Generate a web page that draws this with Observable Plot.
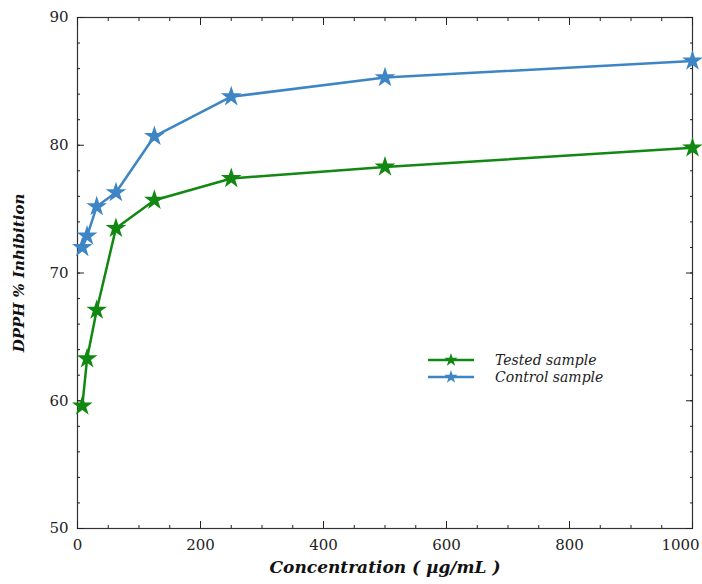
<!DOCTYPE html>
<html><head><meta charset="utf-8">
<script src="https://cdn.jsdelivr.net/npm/d3@7"></script>
<script src="https://cdn.jsdelivr.net/npm/@observablehq/plot@0.6"></script>
<style>
body{margin:0;background:#fff}
#wrap{position:relative;width:702px;height:584px}
#legend{position:absolute;left:424px;top:348px}
</style></head><body><div id="wrap"></div>
<script>
const concentrations = [7.8, 15.6, 31.25, 62.5, 125, 250, 500, 1000];
const tested = [59.6, 63.3, 67.1, 73.5, 75.7, 77.4, 78.3, 79.8];
const control = [72.0, 72.9, 75.2, 76.3, 80.7, 83.8, 85.3, 86.6];
const seriesNames = ["Tested sample", "Control sample"];
const seriesColors = ["#118811", "#3d85c4"];
const xTicks = [0, 200, 400, 600, 800, 1000];
const yTicks = [50, 60, 70, 80, 90];
const xMinor = d3.range(0, 1001, 50);
const yMinor = d3.range(50, 91, 2);
const xLabel = "Concentration ( \u00b5g/mL )";
const yLabel = "DPPH % Inhibition";

const data = [];
concentrations.forEach((c, i) => data.push({x: c, y: tested[i], s: seriesNames[0]}));
concentrations.forEach((c, i) => data.push({x: c, y: control[i], s: seriesNames[1]}));

const blank = () => "";
const chart = Plot.plot({
  width: 702, height: 584,
  marginLeft: 77, marginRight: 10, marginTop: 17, marginBottom: 56,
  style: {fontFamily: "'DejaVu Serif', serif", fontSize: "15px", color: "#222", background: "#fff"},
  x: {domain: [0, 1000], label: null, axis: null},
  y: {domain: [50, 90], label: null, axis: null},
  color: {domain: seriesNames, range: seriesColors},
  marks: [
    Plot.frame({stroke: "#333", strokeWidth: 1.2}),
    Plot.axisX(xMinor, {anchor: "bottom", tickSize: -3, tickFormat: blank, label: null}),
    Plot.axisX(xMinor, {anchor: "top", tickSize: -3, tickFormat: blank, label: null}),
    Plot.axisX(xTicks, {anchor: "bottom", tickSize: -7, tickFormat: blank, label: null}),
    Plot.axisX(xTicks, {anchor: "top", tickSize: -7, tickFormat: blank, label: null}),
    Plot.axisY(yMinor, {anchor: "left", tickSize: -3, tickFormat: blank, label: null}),
    Plot.axisY(yMinor, {anchor: "right", tickSize: -3, tickFormat: blank, label: null}),
    Plot.axisY(yTicks, {anchor: "left", tickSize: -7, tickFormat: blank, label: null}),
    Plot.axisY(yTicks, {anchor: "right", tickSize: -7, tickFormat: blank, label: null}),
    Plot.axisX(xTicks.slice(0, -1), {anchor: "bottom", tickSize: 0, tickPadding: 11, tickFormat: d3.format("d"), label: null}),
    Plot.axisX(xTicks.slice(-1), {anchor: "bottom", tickSize: 0, tickPadding: 11, dx: -12, tickFormat: d3.format("d"), label: null}),
    Plot.axisY(yTicks, {anchor: "left", tickSize: 0, tickPadding: 9, tickFormat: d3.format("d"), label: null}),
    Plot.line(data, {x: "x", y: "y", z: "s", stroke: "s", strokeWidth: 2.5}),
    Plot.dot(data, {x: "x", y: "y", fill: "s", symbol: "star", r: 6.5}),
    Plot.text([yLabel], {text: d => d, frameAnchor: "left", textAnchor: "middle", dx: -58, rotate: -90, fontWeight: "bold", fontStyle: "italic", fontSize: 15, fill: "#111"}),
    Plot.text([xLabel], {text: d => d, frameAnchor: "bottom", textAnchor: "middle", dy: 44, fontWeight: "bold", fontStyle: "italic", fontSize: 17, fill: "#111"})
  ]
});
const wrap = document.getElementById("wrap");
wrap.appendChild(chart);

// legend
const leg = d3.select(wrap).append("svg").attr("id", "legend").attr("width", 200).attr("height", 42);
seriesNames.forEach((name, i) => {
  const y = 12 + i * 17;
  leg.append("line").attr("x1", 4).attr("x2", 50).attr("y1", y).attr("y2", y)
    .attr("stroke", seriesColors[i]).attr("stroke-width", 2.5);
  leg.append("path").attr("d", d3.symbol(d3.symbolStar, 55)()).attr("transform", `translate(27,${y})`)
    .attr("fill", seriesColors[i]);
  leg.append("text").attr("x", 71).attr("y", y + 5).text(name)
    .attr("font-family", "'DejaVu Serif', serif").attr("font-style", "italic").attr("font-size", 14).attr("fill", "#222");
});
</script></body></html>
